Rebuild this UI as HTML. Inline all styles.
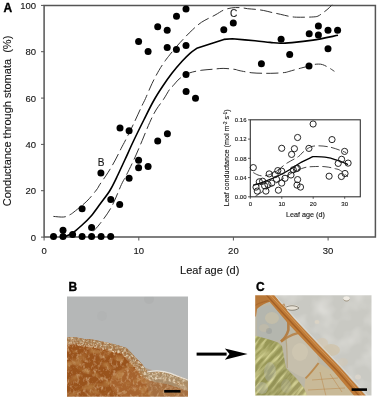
<!DOCTYPE html>
<html><head><meta charset="utf-8"><style>
html,body{margin:0;padding:0;background:#fff;}
svg{display:block;filter:blur(0.3px);}
text{font-family:"Liberation Sans",sans-serif;fill:#151515;stroke:#151515;stroke-width:0.12px;}
.t9{font-size:9.5px;}
.t11{font-size:11px;}
.t105{font-size:10.5px;}
.t95{font-size:10.1px;}
.tb{font-size:12px;font-weight:bold;fill:#000;stroke:#000;stroke-width:0.35px;}
.t6{font-size:6px;}
.t7{font-size:7.2px;}
</style></head><body>
<svg width="378" height="400" viewBox="0 0 378 400">
<defs>
<clipPath id="clipB"><rect x="67" y="296.5" width="121" height="100.3"/></clipPath>
<clipPath id="clipBrown"><path d="M67.0,337.5 L74.0,337.0 L84.0,339.0 L90.0,339.0 L99.5,341.0 L109.0,343.0 L118.6,345.5 L126.5,348.0 L131.0,352.5 L136.0,358.0 L140.0,362.0 L142.4,364.5 L145.0,368.5 L147.5,371.5 L151.0,372.5 L160.7,371.0 L170.7,373.5 L180.7,377.0 L188.0,381.0 L190,399 L66,399 L66,337.6 Z"/></clipPath>
<filter id="speckL" x="0" y="0" width="100%" height="100%"><feTurbulence type="fractalNoise" baseFrequency="0.3 0.22" numOctaves="3" seed="7" result="n"/>
<feColorMatrix in="n" type="matrix" values="0 0 0 0 0.76  0 0 0 0 0.55  0 0 0 0 0.34  1.8 0 0 0 -0.88" result="sp"/><feComposite in="sp" in2="SourceAlpha" operator="in"/></filter>
<filter id="speckD" x="0" y="0" width="100%" height="100%"><feTurbulence type="fractalNoise" baseFrequency="0.08 0.12" numOctaves="2" seed="11" result="n"/>
<feColorMatrix in="n" type="matrix" values="0 0 0 0 0.52  0 0 0 0 0.26  0 0 0 0 0.08  2.2 0 0 0 -1.05" result="sp"/><feComposite in="sp" in2="SourceAlpha" operator="in"/></filter>
<filter id="speckE" x="-5%" y="-20%" width="110%" height="140%"><feTurbulence type="fractalNoise" baseFrequency="0.45" numOctaves="2" seed="3" result="n"/>
<feColorMatrix in="n" type="matrix" values="0 0 0 0 0.82  0 0 0 0 0.70  0 0 0 0 0.52  2.5 0 0 0 -1.02" result="sp"/><feComposite in="sp" in2="SourceAlpha" operator="in"/></filter>
<filter id="noiseC" x="0" y="0" width="100%" height="100%"><feTurbulence type="fractalNoise" baseFrequency="0.06" numOctaves="2" seed="4" result="n"/>
<feColorMatrix in="n" type="matrix" values="0 0 0 0 0.86  0 0 0 0 0.85  0 0 0 0 0.82  1.0 0 0 0 -0.42" result="sp"/><feComposite in="sp" in2="SourceAlpha" operator="in"/></filter>
<filter id="streakC" x="0" y="0" width="100%" height="100%"><feTurbulence type="fractalNoise" baseFrequency="0.3 0.05" numOctaves="2" seed="9" result="n"/>
<feColorMatrix in="n" type="matrix" values="0 0 0 0 0.82  0 0 0 0 0.80  0 0 0 0 0.40  2.2 0 0 0 -0.95" result="sp"/><feComposite in="sp" in2="SourceAlpha" operator="in"/></filter>
<clipPath id="clipGreen"><path d="M254,335.5 L262,337.5 L270,339.8 L278,342.5 L282,346 L286,368 L296,378 L304,388 L308,398 L254,398 Z"/></clipPath>
<filter id="speckD2" x="-5%" y="-20%" width="110%" height="140%"><feTurbulence type="fractalNoise" baseFrequency="0.5" numOctaves="2" seed="21" result="n"/>
<feColorMatrix in="n" type="matrix" values="0 0 0 0 0.36  0 0 0 0 0.26  0 0 0 0 0.14  2.6 0 0 0 -1.15" result="sp"/><feComposite in="sp" in2="SourceAlpha" operator="in"/></filter>
<clipPath id="clipC"><rect x="255.2" y="295.2" width="116.3" height="100.3"/></clipPath>
<filter id="blurP" x="-5%" y="-5%" width="110%" height="110%"><feGaussianBlur stdDeviation="0.7"/></filter>
<linearGradient id="brownB" x1="0" y1="0" x2="1" y2="1">
<stop offset="0" stop-color="#b06a30"/><stop offset="0.5" stop-color="#a86428"/><stop offset="1" stop-color="#b48250"/></linearGradient>
<linearGradient id="greenC" x1="0" y1="0" x2="1" y2="1">
<stop offset="0" stop-color="#9a9a56"/><stop offset="0.6" stop-color="#939256"/><stop offset="1" stop-color="#a8a068"/></linearGradient>
</defs>
<rect x="0" y="0" width="378" height="400" fill="#fff"/>
<path d="M44.1,5.4 H375.4 V237.05 H44.1 Z" fill="none" stroke="#555" stroke-width="1.5"/>
<line x1="41" y1="5.4" x2="44.1" y2="5.4" stroke="#555" stroke-width="1"/>
<text x="36.1" y="8.8" text-anchor="end" class="t9">100</text>
<line x1="41" y1="51.7" x2="44.1" y2="51.7" stroke="#555" stroke-width="1"/>
<text x="36.1" y="55.1" text-anchor="end" class="t9">80</text>
<line x1="41" y1="98.1" x2="44.1" y2="98.1" stroke="#555" stroke-width="1"/>
<text x="36.1" y="101.5" text-anchor="end" class="t9">60</text>
<line x1="41" y1="144.4" x2="44.1" y2="144.4" stroke="#555" stroke-width="1"/>
<text x="36.1" y="147.8" text-anchor="end" class="t9">40</text>
<line x1="41" y1="190.7" x2="44.1" y2="190.7" stroke="#555" stroke-width="1"/>
<text x="36.1" y="194.1" text-anchor="end" class="t9">20</text>
<line x1="41" y1="237.1" x2="44.1" y2="237.1" stroke="#555" stroke-width="1"/>
<text x="36.1" y="240.5" text-anchor="end" class="t9">0</text>
<line x1="44.1" y1="237.05" x2="44.1" y2="240.5" stroke="#555" stroke-width="1"/>
<text x="44.1" y="253.5" text-anchor="middle" class="t9">0</text>
<line x1="138.8" y1="237.05" x2="138.8" y2="240.5" stroke="#555" stroke-width="1"/>
<text x="138.8" y="253.5" text-anchor="middle" class="t9">10</text>
<line x1="233.4" y1="237.05" x2="233.4" y2="240.5" stroke="#555" stroke-width="1"/>
<text x="233.4" y="253.5" text-anchor="middle" class="t9">20</text>
<line x1="328.1" y1="237.05" x2="328.1" y2="240.5" stroke="#555" stroke-width="1"/>
<text x="328.1" y="253.5" text-anchor="middle" class="t9">30</text>
<text x="209.7" y="274" text-anchor="middle" class="t11">Leaf age (d)</text>
<text transform="translate(10.9,121) rotate(-90)" text-anchor="middle" class="t11">Conductance through stomata &#160;(%)</text>
<text x="3.4" y="11.8" class="tb">A</text>
<text x="97.7" y="165.6" class="t95">B</text>
<text x="230.1" y="17.2" class="t95">C</text>
<path d="M53.4,216.4 C55.1,216.5 61.0,217.3 63.8,217.0 C66.6,216.7 68.2,215.7 70.2,214.6 C72.2,213.5 72.9,212.8 75.7,210.6 C78.5,208.3 83.5,204.5 86.9,201.1 C90.4,197.7 94.2,192.8 96.4,190.0 C98.6,187.2 98.1,187.1 100.0,184.2 C101.9,181.3 105.4,176.7 107.9,172.7 C110.5,168.7 113.1,164.1 115.3,160.0 C117.5,155.9 119.5,151.7 121.2,148.3 C122.9,144.9 123.6,144.0 125.7,139.8 C127.8,135.6 131.4,128.5 134.0,123.0 C136.6,117.5 139.6,110.8 141.5,106.7 C143.4,102.6 143.8,102.3 145.5,98.5 C147.2,94.7 149.8,88.3 152.0,83.6 C154.2,78.9 157.0,73.8 159.0,70.3 C161.0,66.8 162.4,64.8 164.0,62.5 C165.6,60.2 166.4,59.0 168.6,56.3 C170.8,53.5 174.2,49.2 177.0,46.0 C179.8,42.8 182.8,39.7 185.3,37.0 C187.9,34.3 189.6,32.5 192.3,30.0 C195.0,27.5 197.8,24.7 201.6,22.2 C205.4,19.7 211.3,17.1 215.0,15.1 C218.7,13.1 221.0,11.2 223.8,10.0 C226.6,8.8 229.0,8.3 231.7,7.9 C234.4,7.5 237.3,7.5 240.0,7.6 C242.7,7.7 245.1,8.4 247.6,8.7 C250.1,9.0 252.3,9.0 255.0,9.3 C257.7,9.6 260.9,10.0 263.7,10.5 C266.5,11.0 269.2,11.9 272.0,12.5 C274.8,13.1 277.4,13.6 280.4,14.3 C283.4,15.0 287.3,16.0 290.0,16.5 C292.7,17.0 294.1,17.1 296.6,17.2 C299.1,17.3 302.1,17.2 305.0,17.2 C307.9,17.1 311.6,17.1 313.8,16.9 C316.0,16.7 316.6,16.7 318.0,16.1 C319.4,15.5 320.7,14.4 322.0,13.5 C323.3,12.6 324.7,11.5 326.0,10.5 C327.3,9.5 328.7,8.2 329.7,7.3 C330.7,6.3 331.6,5.2 332.0,4.8" fill="none" stroke="#333" stroke-width="1" stroke-dasharray="12.3 4.3"/>
<path d="M93.2,231.3 C94.4,230.0 97.2,227.4 100.3,223.3 C103.4,219.2 108.2,213.1 111.7,206.6 C115.2,200.1 119.0,189.7 121.4,184.6 C123.8,179.5 123.9,180.1 126.0,175.9 C128.1,171.7 131.3,165.4 134.0,159.5 C136.7,153.6 139.6,146.7 142.2,140.5 C144.8,134.3 147.4,127.6 149.7,122.5 C152.0,117.4 153.7,113.8 156.0,110.0 C158.3,106.2 161.2,102.9 163.4,99.5 C165.7,96.1 167.9,91.8 169.5,89.5 C171.1,87.2 171.2,87.7 173.0,85.8 C174.8,83.9 177.2,80.4 180.0,78.3 C182.8,76.2 185.9,74.2 189.6,72.9 C193.2,71.6 198.2,70.8 201.9,70.2 C205.6,69.7 208.5,69.6 212.0,69.3 C215.5,69.0 219.3,68.4 223.1,68.4 C226.9,68.4 232.4,69.1 235.0,69.4 C237.6,69.8 236.1,69.9 238.9,70.5 C241.7,71.1 247.6,72.3 251.9,72.8 C256.2,73.3 261.1,73.2 265.0,73.3 C268.9,73.4 271.7,73.3 275.0,73.2 C278.3,73.1 282.5,72.8 284.8,72.5 C287.1,72.2 286.0,72.3 288.8,71.5 C291.6,70.7 298.3,68.8 301.7,67.9 C305.1,67.0 306.9,66.6 309.0,66.0 C311.1,65.4 313.0,64.7 314.6,64.4 C316.2,64.1 317.3,64.1 318.6,64.1 C319.9,64.1 320.9,64.1 322.5,64.6 C324.1,65.1 326.0,66.1 328.0,67.2 C330.0,68.3 333.3,70.6 334.4,71.3" fill="none" stroke="#333" stroke-width="1" stroke-dasharray="12.3 4.3"/>
<path d="M64.0,237.0 C65.4,236.3 69.6,235.0 72.6,233.0 C75.6,231.0 78.9,227.9 82.1,225.0 C85.3,222.1 88.5,219.0 91.6,215.4 C94.7,211.8 97.4,207.7 100.5,203.5 C103.6,199.3 107.4,194.7 110.2,190.0 C113.0,185.3 115.2,180.5 117.6,175.5 C120.0,170.5 122.1,165.8 124.8,160.0 C127.5,154.2 130.3,147.7 133.5,141.0 C136.7,134.3 140.4,126.8 143.8,120.0 C147.2,113.2 150.6,106.1 153.8,100.5 C156.9,94.9 159.5,91.0 162.5,86.5 C165.5,82.0 168.4,77.8 171.7,73.5 C175.0,69.2 179.2,64.4 182.3,61.0 C185.4,57.6 187.6,55.4 190.0,53.3 C192.4,51.2 195.7,49.1 196.8,48.3 L223.9,39.4 L232.3,38.8 C236.1,39.1 248.7,40.2 255.0,40.8 C261.3,41.4 265.8,42.0 270.0,42.4 C274.2,42.8 276.3,43.3 280.0,43.3 C283.7,43.3 286.5,43.1 292.0,42.6 C297.5,42.1 305.3,41.3 313.0,40.1 C320.7,38.9 333.8,36.1 338.0,35.3" fill="none" stroke="#000" stroke-width="1.6" stroke-linejoin="round"/>
<circle cx="53.5" cy="236.6" r="3.5" fill="#000"/>
<circle cx="63" cy="236.6" r="3.5" fill="#000"/>
<circle cx="63" cy="230.3" r="3.5" fill="#000"/>
<circle cx="72.6" cy="234.5" r="3.5" fill="#000"/>
<circle cx="82.1" cy="236.6" r="3.5" fill="#000"/>
<circle cx="91.6" cy="236.6" r="3.5" fill="#000"/>
<circle cx="91.6" cy="227.6" r="3.5" fill="#000"/>
<circle cx="101.1" cy="236.6" r="3.5" fill="#000"/>
<circle cx="110.7" cy="236.6" r="3.5" fill="#000"/>
<circle cx="82.1" cy="208.7" r="3.5" fill="#000"/>
<circle cx="100.9" cy="173" r="3.5" fill="#000"/>
<circle cx="110.8" cy="199.6" r="3.5" fill="#000"/>
<circle cx="119.7" cy="204.5" r="3.5" fill="#000"/>
<circle cx="120" cy="128.1" r="3.5" fill="#000"/>
<circle cx="129.1" cy="130.7" r="3.5" fill="#000"/>
<circle cx="129.1" cy="178.3" r="3.5" fill="#000"/>
<circle cx="138.6" cy="160.2" r="3.5" fill="#000"/>
<circle cx="138.6" cy="167.8" r="3.5" fill="#000"/>
<circle cx="148.1" cy="166.6" r="3.5" fill="#000"/>
<circle cx="157.7" cy="141" r="3.5" fill="#000"/>
<circle cx="167.4" cy="133.8" r="3.5" fill="#000"/>
<circle cx="138.6" cy="41.5" r="3.5" fill="#000"/>
<circle cx="148.1" cy="51.4" r="3.5" fill="#000"/>
<circle cx="157.7" cy="26.7" r="3.5" fill="#000"/>
<circle cx="167.2" cy="30.3" r="3.5" fill="#000"/>
<circle cx="167.2" cy="47.5" r="3.5" fill="#000"/>
<circle cx="176.5" cy="16.3" r="3.5" fill="#000"/>
<circle cx="176.4" cy="49.4" r="3.5" fill="#000"/>
<circle cx="186" cy="9.1" r="3.5" fill="#000"/>
<circle cx="186" cy="45.6" r="3.5" fill="#000"/>
<circle cx="186" cy="74.6" r="3.5" fill="#000"/>
<circle cx="186.1" cy="91.5" r="3.5" fill="#000"/>
<circle cx="195.5" cy="98.3" r="3.5" fill="#000"/>
<circle cx="223.8" cy="29.8" r="3.5" fill="#000"/>
<circle cx="233.3" cy="23.1" r="3.5" fill="#000"/>
<circle cx="261.4" cy="63.8" r="3.5" fill="#000"/>
<circle cx="281.1" cy="39.3" r="3.5" fill="#000"/>
<circle cx="289.7" cy="54.4" r="3.5" fill="#000"/>
<circle cx="309.2" cy="33.7" r="3.5" fill="#000"/>
<circle cx="309" cy="66.1" r="3.5" fill="#000"/>
<circle cx="318.4" cy="25.9" r="3.5" fill="#000"/>
<circle cx="318.4" cy="35" r="3.5" fill="#000"/>
<circle cx="328" cy="30.3" r="3.5" fill="#000"/>
<circle cx="337.6" cy="30.3" r="3.5" fill="#000"/>
<circle cx="328" cy="48.7" r="3.5" fill="#000"/>
<rect x="250.3" y="119.8" width="110.0" height="77.00000000000001" fill="#fff" stroke="#333" stroke-width="1.1"/>
<line x1="248" y1="119.8" x2="250.3" y2="119.8" stroke="#333" stroke-width="0.8"/>
<text x="246.5" y="122.0" text-anchor="end" class="t6">0.16</text>
<line x1="248" y1="139.1" x2="250.3" y2="139.1" stroke="#333" stroke-width="0.8"/>
<text x="246.5" y="141.2" text-anchor="end" class="t6">0.12</text>
<line x1="248" y1="158.3" x2="250.3" y2="158.3" stroke="#333" stroke-width="0.8"/>
<text x="246.5" y="160.5" text-anchor="end" class="t6">0.08</text>
<line x1="248" y1="177.6" x2="250.3" y2="177.6" stroke="#333" stroke-width="0.8"/>
<text x="246.5" y="179.8" text-anchor="end" class="t6">0.04</text>
<line x1="248" y1="196.8" x2="250.3" y2="196.8" stroke="#333" stroke-width="0.8"/>
<text x="246.5" y="199.0" text-anchor="end" class="t6">0.00</text>
<line x1="250.3" y1="196.8" x2="250.3" y2="198.8" stroke="#333" stroke-width="0.8"/>
<text x="250.3" y="206.2" text-anchor="middle" class="t6">0</text>
<line x1="281.8" y1="196.8" x2="281.8" y2="198.8" stroke="#333" stroke-width="0.8"/>
<text x="281.8" y="206.2" text-anchor="middle" class="t6">10</text>
<line x1="313.2" y1="196.8" x2="313.2" y2="198.8" stroke="#333" stroke-width="0.8"/>
<text x="313.2" y="206.2" text-anchor="middle" class="t6">20</text>
<line x1="344.7" y1="196.8" x2="344.7" y2="198.8" stroke="#333" stroke-width="0.8"/>
<text x="344.7" y="206.2" text-anchor="middle" class="t6">30</text>
<text x="305.5" y="217.4" text-anchor="middle" class="t7">Leaf age (d)</text>
<text transform="translate(228.9,157.8) rotate(-90)" text-anchor="middle" class="t7">Leaf conductance (mol m<tspan dy="-2" font-size="4.5">-2</tspan><tspan dy="2"> s</tspan><tspan dy="-2" font-size="4.5">-1</tspan><tspan dy="2">)</tspan></text>
<path d="M253.3,172.6 C254.1,173.0 256.4,174.4 258.0,175.0 C259.6,175.6 261.2,176.0 263.2,175.9 C265.2,175.8 267.5,175.5 270.0,174.5 C272.5,173.5 275.2,171.8 278.0,170.0 C280.8,168.2 283.1,165.6 286.5,163.4 C289.9,161.2 295.6,158.5 298.4,156.6 C301.2,154.7 300.9,153.6 303.3,151.9 C305.8,150.2 308.7,147.0 313.1,146.2 C317.5,145.4 324.0,145.9 329.5,147.0 C335.0,148.1 343.2,151.6 346.0,152.5" fill="none" stroke="#333" stroke-width="0.9" stroke-dasharray="9 3.5"/>
<path d="M255.3,196.4 C256.4,195.7 259.6,193.6 262.0,192.0 C264.4,190.4 267.0,188.9 270.0,187.0 C273.0,185.1 276.7,182.7 280.0,180.5 C283.3,178.3 287.0,175.8 290.0,174.0 C293.0,172.2 295.5,171.1 298.0,170.0 C300.5,168.9 302.5,168.1 305.0,167.5 C307.5,166.9 309.8,166.7 313.1,166.6 C316.4,166.5 321.3,166.3 325.0,166.7 C328.7,167.0 332.7,168.0 335.3,168.7 C337.9,169.3 338.4,169.2 340.5,170.6 C342.6,171.9 346.8,175.8 348.0,176.8" fill="none" stroke="#333" stroke-width="0.9" stroke-dasharray="9 3.5"/>
<path d="M253.3,185.4 C255.0,184.9 258.9,183.8 263.2,182.2 C267.5,180.5 274.4,177.6 278.9,175.5 C283.4,173.4 286.5,171.6 290.0,169.5 C293.5,167.4 296.2,165.2 300.0,163.0 C303.8,160.8 310.8,157.7 312.9,156.6 C314.9,156.7 321.9,156.8 325.0,157.1 C328.1,157.4 328.7,157.6 331.3,158.3 C333.9,159.0 338.1,160.5 340.9,161.5 C343.7,162.5 346.8,164.0 348.0,164.5" fill="none" stroke="#000" stroke-width="1.3"/>
<circle cx="297.6" cy="137.5" r="3.1" fill="none" stroke="#1a1a1a" stroke-width="0.95"/>
<circle cx="281.7" cy="148.3" r="3.1" fill="none" stroke="#1a1a1a" stroke-width="0.95"/>
<circle cx="294.4" cy="148.7" r="3.1" fill="none" stroke="#1a1a1a" stroke-width="0.95"/>
<circle cx="291.6" cy="154.4" r="3.1" fill="none" stroke="#1a1a1a" stroke-width="0.95"/>
<circle cx="253.3" cy="167.6" r="3.1" fill="none" stroke="#1a1a1a" stroke-width="0.95"/>
<circle cx="297.3" cy="168.2" r="3.1" fill="none" stroke="#1a1a1a" stroke-width="0.95"/>
<circle cx="308.9" cy="148.4" r="3.1" fill="none" stroke="#1a1a1a" stroke-width="0.95"/>
<circle cx="313.1" cy="124" r="3.1" fill="none" stroke="#1a1a1a" stroke-width="0.95"/>
<circle cx="332" cy="139.6" r="3.1" fill="none" stroke="#1a1a1a" stroke-width="0.95"/>
<circle cx="344.6" cy="151.4" r="3.1" fill="none" stroke="#1a1a1a" stroke-width="0.95"/>
<circle cx="341.6" cy="159.3" r="3.1" fill="none" stroke="#1a1a1a" stroke-width="0.95"/>
<circle cx="338.2" cy="163.4" r="3.1" fill="none" stroke="#1a1a1a" stroke-width="0.95"/>
<circle cx="348.1" cy="163.1" r="3.1" fill="none" stroke="#1a1a1a" stroke-width="0.95"/>
<circle cx="345" cy="173.5" r="3.1" fill="none" stroke="#1a1a1a" stroke-width="0.95"/>
<circle cx="341.4" cy="176.5" r="3.1" fill="none" stroke="#1a1a1a" stroke-width="0.95"/>
<circle cx="329.1" cy="176.2" r="3.1" fill="none" stroke="#1a1a1a" stroke-width="0.95"/>
<circle cx="297.6" cy="179.6" r="3.1" fill="none" stroke="#1a1a1a" stroke-width="0.95"/>
<circle cx="300.5" cy="187.1" r="3.1" fill="none" stroke="#1a1a1a" stroke-width="0.95"/>
<circle cx="291" cy="175" r="3.1" fill="none" stroke="#1a1a1a" stroke-width="0.95"/>
<circle cx="269.2" cy="173.9" r="3.1" fill="none" stroke="#1a1a1a" stroke-width="0.95"/>
<circle cx="277.8" cy="170.6" r="3.1" fill="none" stroke="#1a1a1a" stroke-width="0.95"/>
<circle cx="281.7" cy="171.2" r="3.1" fill="none" stroke="#1a1a1a" stroke-width="0.95"/>
<circle cx="275.1" cy="174.6" r="3.1" fill="none" stroke="#1a1a1a" stroke-width="0.95"/>
<circle cx="259.3" cy="181.8" r="3.1" fill="none" stroke="#1a1a1a" stroke-width="0.95"/>
<circle cx="262.6" cy="181.2" r="3.1" fill="none" stroke="#1a1a1a" stroke-width="0.95"/>
<circle cx="256" cy="187.1" r="3.1" fill="none" stroke="#1a1a1a" stroke-width="0.95"/>
<circle cx="257.3" cy="191.1" r="3.1" fill="none" stroke="#1a1a1a" stroke-width="0.95"/>
<circle cx="265.9" cy="191.1" r="3.1" fill="none" stroke="#1a1a1a" stroke-width="0.95"/>
<circle cx="264.6" cy="185.8" r="3.1" fill="none" stroke="#1a1a1a" stroke-width="0.95"/>
<circle cx="267.9" cy="184.5" r="3.1" fill="none" stroke="#1a1a1a" stroke-width="0.95"/>
<circle cx="271.8" cy="183.1" r="3.1" fill="none" stroke="#1a1a1a" stroke-width="0.95"/>
<circle cx="276.5" cy="179.2" r="3.1" fill="none" stroke="#1a1a1a" stroke-width="0.95"/>
<circle cx="281.7" cy="183.1" r="3.1" fill="none" stroke="#1a1a1a" stroke-width="0.95"/>
<circle cx="278.4" cy="190.2" r="3.1" fill="none" stroke="#1a1a1a" stroke-width="0.95"/>
<circle cx="285" cy="178.3" r="3.1" fill="none" stroke="#1a1a1a" stroke-width="0.95"/>
<circle cx="296.3" cy="168.6" r="3.1" fill="none" stroke="#1a1a1a" stroke-width="0.95"/>
<circle cx="297" cy="185.1" r="3.1" fill="none" stroke="#1a1a1a" stroke-width="0.95"/>
<circle cx="293.3" cy="169.8" r="3.1" fill="none" stroke="#1a1a1a" stroke-width="0.95"/>
<text x="68.4" y="291" class="tb">B</text>
<g clip-path="url(#clipB)" filter="url(#blurP)">
<rect x="66" y="295" width="124" height="104" fill="#b5b7b7"/>
<circle cx="149" cy="299" r="5" fill="#a9abab" opacity="0.4"/>
<circle cx="102" cy="316" r="5" fill="#aaacac" opacity="0.25"/>
<path d="M67.0,337.5 L74.0,337.0 L84.0,339.0 L90.0,339.0 L99.5,341.0 L109.0,343.0 L118.6,345.5 L126.5,348.0 L131.0,352.5 L136.0,358.0 L140.0,362.0 L142.4,364.5 L145.0,368.5 L147.5,371.5 L151.0,372.5 L160.7,371.0 L170.7,373.5 L180.7,377.0 L188.0,381.0 L190,399 L66,399 L66,337.6 Z" fill="#99521c"/>
<path d="M140,365 C150,372 170,372 190,380 L190,399 L150,399 C148,385 142,375 140,365 Z" fill="#b08a64" opacity="0.5"/>
<path d="M145,372 C155,370.5 165,371 172,374 C180,377 186,379 190,381 L190,392 C180,388 170,384 160,383 C152,382 147,380 145,372 Z" fill="#aea288" opacity="0.6"/>
<ellipse cx="130" cy="383" rx="20" ry="15" fill="#b87c48" opacity="0.4"/>
<path d="M67.0,337.5 L74.0,337.0 L84.0,339.0 L90.0,339.0 L99.5,341.0 L109.0,343.0 L118.6,345.5 L126.5,348.0 L131.0,352.5 L136.0,358.0 L140.0,362.0 L142.4,364.5 L145.0,368.5 L147.5,371.5 L151.0,372.5 L160.7,371.0 L170.7,373.5 L180.7,377.0 L188.0,381.0 L190,399 L66,399 L66,337.6 Z" fill="#000" filter="url(#speckL)"/>
<path d="M67.0,337.5 L74.0,337.0 L84.0,339.0 L90.0,339.0 L99.5,341.0 L109.0,343.0 L118.6,345.5 L126.5,348.0 L131.0,352.5 L136.0,358.0 L140.0,362.0 L142.4,364.5 L145.0,368.5 L147.5,371.5 L151.0,372.5 L160.7,371.0 L170.7,373.5 L180.7,377.0 L188.0,381.0 L190,399 L66,399 L66,337.6 Z" fill="#000" filter="url(#speckD)"/>
<g clip-path="url(#clipBrown)"><path d="M67.0,337.5 L74.0,337.0 L84.0,339.0 L90.0,339.0 L99.5,341.0 L109.0,343.0 L118.6,345.5 L126.5,348.0 L131.0,352.5 L136.0,358.0 L140.0,362.0 L142.4,364.5 L145.0,368.5 L147.5,371.5 L151.0,372.5 L160.7,371.0 L170.7,373.5 L180.7,377.0 L188.0,381.0" fill="none" stroke="#ac8a62" stroke-width="14" opacity="0.55"/><path d="M67.0,337.5 L74.0,337.0 L84.0,339.0 L90.0,339.0 L99.5,341.0 L109.0,343.0 L118.6,345.5 L126.5,348.0 L131.0,352.5 L136.0,358.0 L140.0,362.0 L142.4,364.5 L145.0,368.5 L147.5,371.5 L151.0,372.5 L160.7,371.0 L170.7,373.5 L180.7,377.0 L188.0,381.0" fill="none" stroke="#000" stroke-width="16" filter="url(#speckE)"/></g>
<g clip-path="url(#clipBrown)"><path d="M67.0,337.5 L74.0,337.0 L84.0,339.0 L90.0,339.0 L99.5,341.0 L109.0,343.0 L118.6,345.5 L126.5,348.0 L131.0,352.5 L136.0,358.0 L140.0,362.0 L142.4,364.5 L145.0,368.5 L147.5,371.5 L151.0,372.5 L160.7,371.0 L170.7,373.5 L180.7,377.0 L188.0,381.0" fill="none" stroke="#000" stroke-width="10" filter="url(#speckD2)"/></g>
<path d="M147,372 C155,370.2 162,370 170.6,373.4 C178,376.5 184,378 190,381" fill="none" stroke="#f0ece4" stroke-width="1.2" opacity="0.9"/>
</g>
<rect x="164.2" y="390" width="16.3" height="2.6" fill="#000"/>
<rect x="196.6" y="352.6" width="30" height="3" fill="#000"/>
<path d="M247.6,354.1 L224.8,348.5 L229.5,354.1 L224.8,359.7 Z" fill="#000"/>
<text x="256" y="291.3" class="tb">C</text>
<g clip-path="url(#clipC)" filter="url(#blurP)">
<rect x="254" y="294" width="120" height="104" fill="#c9c9c3"/>
<rect x="254" y="294" width="120" height="104" fill="#000" filter="url(#noiseC)"/>
<ellipse cx="331" cy="350" rx="9" ry="6" fill="#cfc3aa" opacity="0.8"/>
<ellipse cx="322" cy="343" rx="6" ry="5" fill="#d4c8b2" opacity="0.7"/>
<ellipse cx="343" cy="362" rx="5" ry="4" fill="#d2c8b6" opacity="0.6"/>
<ellipse cx="292" cy="307.5" rx="7" ry="2.8" fill="#e6e0d4"/>
<path d="M285,308 C288,305 296,305 299,308 C296,311 288,311 285,308 Z" fill="none" stroke="#6a6458" stroke-width="0.7"/>
<ellipse cx="346.5" cy="298.5" rx="3.2" ry="2.2" fill="#eeeae2"/>
<path d="M343.5,299.5 C345,301.5 348,301.5 349.5,299.5" fill="none" stroke="#8a7a60" stroke-width="0.7"/>
<ellipse cx="358" cy="377" rx="3" ry="2.5" fill="#dcd6cc" opacity="0.8"/>
<ellipse cx="317" cy="322" rx="2.5" ry="2" fill="#ddd4c4" opacity="0.8"/>
<path d="M254,294 L268,294 L290,320 L312,344 L334,367 L360,398 L254,398 Z" fill="#bcb7a6"/>
<path d="M257,309 C266,304 278,304 285,309 C289,318 289,328 284,338 C276,342 266,341 257,337 Z" fill="#b4b6ae"/>
<ellipse cx="272" cy="318" rx="7" ry="6" fill="#c8c0a8" opacity="0.75"/>
<ellipse cx="264" cy="328" rx="5" ry="4" fill="#c4bca6" opacity="0.6"/>
<ellipse cx="269" cy="331" rx="3" ry="3" fill="#8a9090" opacity="0.35"/>
<path d="M286,337 C292,333 300,332 306,333.5 C312,340 317,350 318.6,363 C314,370 309,375 305.5,378 C298,376 292,372 287.3,368 Z" fill="#c6bfac"/>
<ellipse cx="300" cy="352" rx="8" ry="9" fill="#d2c9b4" opacity="0.7"/>
<path d="M305.5,378 L318.6,363 L334,372 L356,398 L303,398 Z" fill="#c9ba98"/>
<path d="M254,335.5 L262,337.5 L270,339.8 L278,342.5 L282,346 L286,368 L296,378 L304,388 L308,398 L254,398 Z" fill="url(#greenC)"/>
<g clip-path="url(#clipGreen)"><ellipse cx="270" cy="372" rx="6" ry="10" fill="#a8aa98" opacity="0.55"/><ellipse cx="262" cy="388" rx="6" ry="6" fill="#b4b6a4" opacity="0.5"/><ellipse cx="286" cy="386" rx="5" ry="7" fill="#a8a890" opacity="0.4"/></g>
<g clip-path="url(#clipGreen)"><g transform="rotate(40 280 368)"><rect x="220" y="310" width="120" height="120" fill="#000" filter="url(#streakC)"/></g></g>
<path d="M254,294 L274,294 L278,300 C270,301 262,304 257,309 L256,316 L254,318 Z" fill="#b87838"/>
<path d="M254,306 C262,301 270,300 278,300.5" fill="none" stroke="#a8682c" stroke-width="1.2" opacity="0.8"/>
<path d="M283,304 C287,312 289,322 288.4,330 C287,335 285,338 281,341.5" fill="none" stroke="#b27636" stroke-width="2.6" opacity="0.85"/>
<path d="M281,341.5 C289,335.5 297,332 306,332.5" fill="none" stroke="#b47a3c" stroke-width="2.2" opacity="0.8"/>
<path d="M286,338 C287,348 287.3,358 287.3,368" fill="none" stroke="#a89060" stroke-width="1.2" opacity="0.5"/>
<path d="M318.6,363 C314,369 310,374 305.5,378.4" fill="none" stroke="#b8803e" stroke-width="2" opacity="0.8"/>
<path d="M312,380 L338,378 M320,372 L326,396 M330,374 L342,392 M308,390 L345,388" fill="none" stroke="#b98040" stroke-width="1" opacity="0.45"/>
<path d="M263,294 L273,294 L294,318.5 L317,343 L340,367 L366,396 L356,398 L334,372 L312,349 L289,324.5 Z" fill="#bf7b38"/>
<path d="M265.5,294 L291,322 L314,347 L337,370.5 L361,398" fill="none" stroke="#9c5a22" stroke-width="1.4" opacity="0.8"/>
<path d="M269.5,294 L293,319.5 L316,344.5 L339,368.5 L364,397" fill="none" stroke="#dba46a" stroke-width="1" opacity="0.7"/>
<path d="M273.5,294 L295,318 L318,342.5 L341,366.5 L367,395" fill="none" stroke="#e6e4dc" stroke-width="1" opacity="0.6"/>
</g>
<rect x="351.6" y="388.3" width="15.4" height="2.6" fill="#000"/>
</svg></body></html>
